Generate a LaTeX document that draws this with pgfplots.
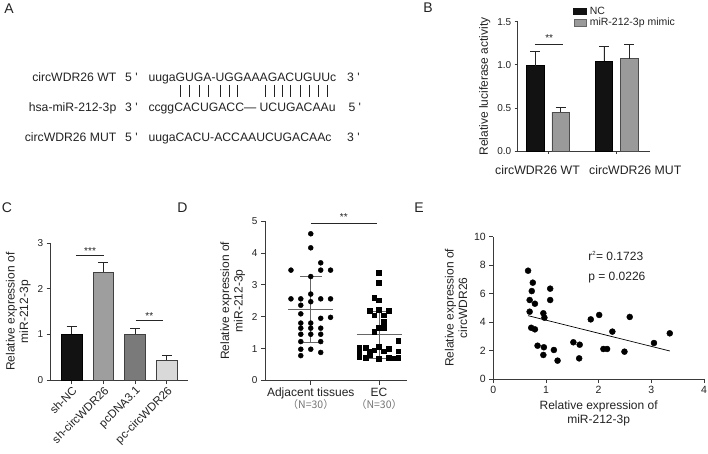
\documentclass[border=0pt]{standalone}
\usepackage{fontspec}
\setmainfont{Liberation Sans}
\newfontfamily\cjk{Noto Sans CJK SC}
\usepackage{pgfplots}
\pgfplotsset{compat=1.18}
\definecolor{axc}{HTML}{3A3A3A}
\definecolor{txc}{HTML}{222222}
\definecolor{mimic}{HTML}{9A9A9A}
\definecolor{shc}{HTML}{9E9E9E}
\definecolor{pcd}{HTML}{7A7A7A}
\definecolor{pcc}{HTML}{D9D9D9}
\definecolor{mline}{HTML}{666666}
\pgfplotsset{
  panel/.style={
    scale only axis, anchor=south west,
    axis lines=left, axis line style={-, line width=0.75pt, draw=axc},
    tick align=outside, major tick length=4pt,
    tick style={line width=0.75pt, draw=axc},
    /pgf/number format/assume math mode=true,
    tick label style={font=\fontsize{10}{12}\selectfont, text=txc},
    label style={font=\fontsize{12}{13.5}\selectfont, text=txc, align=center},
    clip=false,
  },
  myerr/.style={
    error bars/y dir=plus, error bars/y explicit,
    error bars/error bar style={line width=0.8pt, draw=black!85},
    error bars/error mark options={rotate=90, line width=0.8pt, mark size=5pt, draw=black!85},
  },
}
\begin{document}
\begin{tikzpicture}
\useasboundingbox (0pt,0pt) rectangle (708pt,453pt);
% panel letters
\begin{scope}[every node/.style={font=\fontsize{14}{16}\selectfont, text=txc}]
\node at (9pt,444pt) {A};
\node at (428pt,445pt) {B};
\node at (7pt,245pt) {C};
\node at (182.5pt,245pt) {D};
\node at (419pt,245pt) {E};
\end{scope}
% panel A
\begin{scope}[every node/.style={font=\fontsize{12.2}{14}\selectfont, text=txc, inner sep=0pt}]
\node[anchor=base east] at (116.5pt,371.3pt) {circWDR26 WT};
\node[anchor=base east] at (116.5pt,341.3pt) {hsa-miR-212-3p};
\node[anchor=base east] at (116.5pt,311.3pt) {circWDR26 MUT};
\node[anchor=base west] at (125pt,371.3pt) {5 \textquotesingle};
\node[anchor=base west] at (125pt,341.3pt) {3 \textquotesingle};
\node[anchor=base west] at (125pt,311.3pt) {5 \textquotesingle};
\node[anchor=base west] at (148.3pt,371.3pt) {uugaGUGA-UGGAAAGACUGUUc};
\node[anchor=base west] at (148.3pt,341.3pt) {ccggCACUGACC— UCUGACAAu};
\node[anchor=base west] at (148.3pt,311.3pt) {uugaCACU-ACCAAUCUGACAAc};
\node[anchor=base west] at (347pt,371.3pt) {3 \textquotesingle};
\node[anchor=base west] at (348.3pt,341.3pt) {5 \textquotesingle};
\node[anchor=base west] at (347pt,311.3pt) {3 \textquotesingle};
\end{scope}
\foreach \bx in {180,189.3,199.3,208.3,220,229.3,237.3,265,274,282.7,290.7,300,309.3,318.3,327.3}{
  \draw[line width=0.6pt, txc] (\bx pt,368pt) -- (\bx pt,356pt);
}
% ---------------- panel B
\begin{axis}[panel, myerr, at={(517.7pt,302pt)}, width=132.3pt, height=129.3pt,
  xmin=-0.441, xmax=1.485, ymin=0, ymax=1.5,
  ytick={0,0.5,1,1.5},
  yticklabel style={/pgf/number format/.cd, fixed, fixed zerofill, precision=1},
  xtick={0,1}, xticklabels={},
  major tick length=3pt,
  ylabel={Relative luciferase activity},
  legend style={at={(rel axis cs:0.42,1.125)}, anchor=north west, draw=none, fill=none,
    font=\fontsize{10.5}{12}\selectfont, inner sep=0pt, row sep=0.6pt,
    nodes={inner xsep=3pt, inner ysep=1pt, text=txc}},
  legend cell align=left,
]
\addplot[ybar, bar width=0.255, bar shift=0, fill=black!93, draw=black, line width=0.6pt,
  legend image code/.code={\fill[black!93] (0pt,-3.3pt) rectangle (12.7pt,3.3pt);}]
  coordinates {(-0.185,0.99) +- (0,0.16) (0.815,1.04) +- (0,0.17)};
\addlegendentry{NC}
\addplot[ybar, bar width=0.255, bar shift=0, fill=mimic, draw=black!70, line width=0.6pt,
  legend image code/.code={\draw[fill=mimic, draw=black!60, line width=0.4pt] (0pt,-3.3pt) rectangle (12.7pt,3.3pt);}]
  coordinates {(0.185,0.45) +- (0,0.06) (1.185,1.07) +- (0,0.17)};
\addlegendentry{miR-212-3p mimic}
\addplot[black!85, line width=0.7pt, forget plot] coordinates {(-0.19,1.237) (0.223,1.237)};
\node[font=\fontsize{10}{12}\selectfont, text=txc] at (axis cs:0.017,1.31) {**};
\node[anchor=base, inner sep=0pt, font=\fontsize{12.3}{14}\selectfont, text=txc] at (axis cs:-0.153,-0.27) {circWDR26 WT};
\node[anchor=base, inner sep=0pt, font=\fontsize{12.3}{14}\selectfont, text=txc] at (axis cs:1.27,-0.27) {circWDR26 MUT};
\end{axis}
% ---------------- panel C
\begin{axis}[panel, myerr, at={(50.7pt,73pt)}, width=137.6pt, height=136.7pt,
  xmin=-0.663, xmax=3.68, ymin=0, ymax=3,
  ytick={0,1,2,3},
  xtick={0,1,2,3}, xticklabels={sh-NC, sh-circWDR26, pcDNA3.1, pc-circWDR26},
  xticklabel style={rotate=45, anchor=north east, font=\fontsize{11.5}{13}\selectfont, inner sep=1pt},
  ylabel={Relative expression of\\miR-212-3p},
]
\addplot[ybar, bar width=0.65, bar shift=0, fill=black!93, draw=black, line width=0.6pt]
  coordinates {(0,1.0) +- (0,0.18)};
\addplot[ybar, bar width=0.65, bar shift=0, fill=shc, draw=black!75, line width=0.6pt]
  coordinates {(1,2.36) +- (0,0.22)};
\addplot[ybar, bar width=0.65, bar shift=0, fill=pcd, draw=black!75, line width=0.6pt]
  coordinates {(2,1.01) +- (0,0.12)};
\addplot[ybar, bar width=0.65, bar shift=0, fill=pcc, draw=black!75, line width=0.6pt]
  coordinates {(3,0.44) +- (0,0.09)};
\addplot[black!85, line width=0.7pt] coordinates {(0.13,2.74) (1.03,2.74)};
\addplot[black!85, line width=0.7pt] coordinates {(2.02,1.32) (2.89,1.32)};
\node[font=\fontsize{10}{12}\selectfont, text=txc] at (axis cs:0.58,2.83) {***};
\node[font=\fontsize{10}{12}\selectfont, text=txc] at (axis cs:2.45,1.41) {**};
\end{axis}
% ---------------- panel D
\begin{axis}[panel, at={(265pt,72.5pt)}, width=141.7pt, height=159.5pt,
  xmin=-0.67, xmax=1.405, ymin=0, ymax=5,
  ytick={0,1,2,3,4,5},
  xtick={0,1},
  xticklabels={{Adjacent tissues\\[-1pt]{\cjk\fontsize{10.5}{12}\selectfont\color{black!55}（N=30）}},
               {EC\\[-1pt]{\cjk\fontsize{10.5}{12}\selectfont\color{black!55}（N=30）}}},
  xticklabel style={font=\fontsize{12}{13}\selectfont, align=center},
  ylabel={Relative expression of\\miR-212-3p},
]
\addplot[only marks, mark=*, mark size=2.5pt, black] coordinates {
(0,4.60) (0,4.16) (0.146,3.69) (-0.29,3.46) (0.146,3.46) (0.29,3.46) (0,3.26)
(0,2.71) (-0.29,2.56) (-0.146,2.56) (0.146,2.56) (0.29,2.56) (0,2.47) (-0.146,2.36)
(-0.146,2.09) (0.146,1.95) (0.29,1.98) (-0.146,1.80) (0,1.80) (-0.146,1.64) (0,1.64)
(0.146,1.64) (-0.146,1.45) (0,1.45) (0.146,1.45) (-0.146,1.22) (0.146,1.22)
(-0.146,0.98) (0,0.98) (-0.146,0.78) (0.146,0.88)};
\addplot[only marks, mark=square*, mark size=2.4pt, black] coordinates {
(1,3.37) (1,3.06) (0.93,2.60) (1,2.52) (0.86,2.20) (1,2.22) (1.14,2.18) (0.93,2.05)
(1.07,2.05) (1.07,1.85) (1,1.65) (1.07,1.65) (0.93,1.52) (1.28,1.25) (0.71,1.02)
(0.8,1.02) (1,1.05) (1.14,1.0) (0.71,0.88) (0.86,0.92) (0.93,0.95) (1.07,0.92)
(1.28,0.92) (0.71,0.75) (0.8,0.72) (1,0.68) (1.14,0.72) (1.21,0.70) (1.28,0.72) (0.86,0.80)};
% mean and SD
\addplot[mline, line width=0.8pt] coordinates {(-0.33,2.22) (0.33,2.22)};
\addplot[mline, line width=0.8pt] coordinates {(-0.16,3.25) (0.16,3.25)};
\addplot[mline, line width=0.8pt] coordinates {(-0.16,1.2) (0.16,1.2)};
\addplot[mline, line width=0.8pt] coordinates {(0,1.2) (0,3.25)};
\addplot[mline, line width=0.8pt] coordinates {(0.67,1.43) (1.33,1.43)};
\addplot[mline, line width=0.8pt] coordinates {(0.84,2.18) (1.16,2.18)};
\addplot[mline, line width=0.8pt] coordinates {(0.84,0.68) (1.16,0.68)};
\addplot[mline, line width=0.8pt] coordinates {(1,0.68) (1,2.18)};
\addplot[black!85, line width=0.7pt] coordinates {(0,4.93) (0.97,4.93)};
\node[font=\fontsize{10}{12}\selectfont, text=txc] at (axis cs:0.485,5.12) {**};
\end{axis}
% ---------------- panel E
\begin{axis}[panel, at={(493.3pt,74pt)}, width=210.7pt, height=142.3pt,
  xmin=0, xmax=4, ymin=0, ymax=10,
  xtick={0,1,2,3,4}, ytick={0,2,4,6,8,10},
  tick label style={font=\fontsize{10.5}{12}\selectfont},
  xlabel={Relative expression of\\miR-212-3p},
  ylabel={Relative expression of\\circWDR26},
]
\addplot[only marks, mark=*, mark size=3pt, black] coordinates {
(0.66,7.61) (0.75,6.77) (0.73,6.18) (0.69,5.55) (0.79,5.29) (0.69,4.73) (0.72,3.60)
(0.79,3.49) (1.08,6.35) (1.08,5.55) (0.95,4.62) (0.97,4.31) (0.84,2.34) (0.96,2.23)
(0.95,1.69) (1.15,2.04) (1.22,1.29) (1.52,2.58) (1.64,2.41) (1.63,1.45) (1.85,4.19)
(2.01,4.50) (2.26,3.33) (2.09,2.11) (2.16,2.11) (2.49,1.92) (2.59,4.36) (3.05,2.53)
(3.35,3.21)};
\addplot[black, line width=0.7pt] coordinates {(0.66,4.45) (3.35,1.97)};
\node[anchor=west, inner sep=0pt, font=\fontsize{12}{14}\selectfont, text=txc] at (axis cs:1.80,8.64) {r\textsuperscript{\fontsize{6}{7}\selectfont 2}= 0.1723};
\node[anchor=west, inner sep=0pt, font=\fontsize{12}{14}\selectfont, text=txc] at (axis cs:1.80,7.15) {p = 0.0226};
\end{axis}
\end{tikzpicture}
\end{document}
